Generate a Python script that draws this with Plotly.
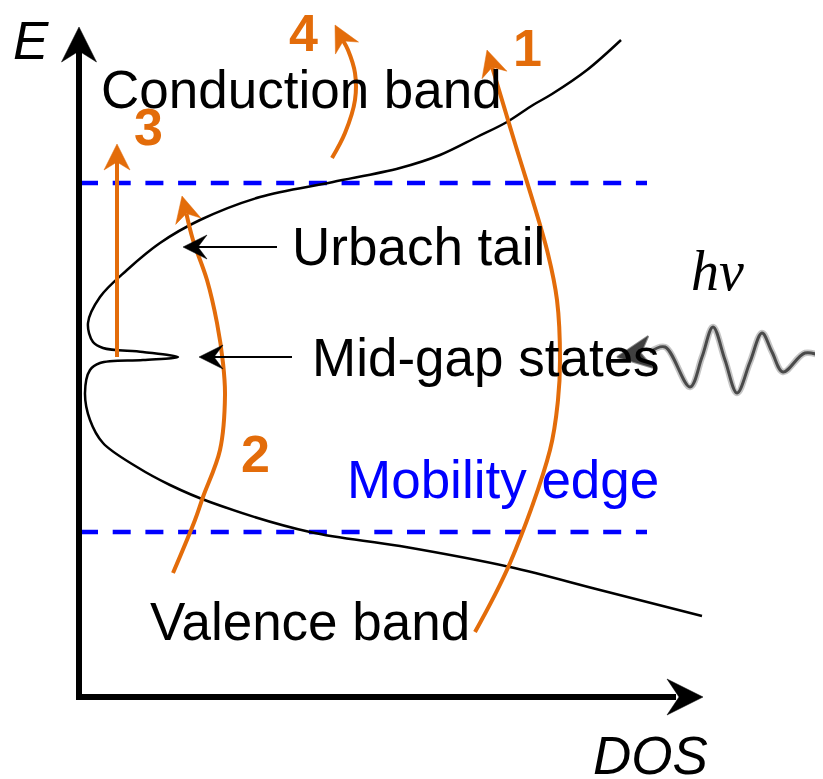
import numpy as np
import plotly.graph_objects as go

W, H = 823, 779
PAGE_MARGIN = 8  # browser default body margin

# ---------------- data (pixel units) ----------------
dos_x = [621, 587, 552, 533, 507, 477, 440, 400, 333, 260, 200, 160, 127, 100, 88, 93, 103,
         143, 178, 143, 100, 90, 85, 90, 103, 137, 170, 210, 310, 400, 510, 600, 702]
dos_y = [40, 70, 94, 105, 122, 137, 155, 168, 182, 197, 220, 243, 270, 297, 323, 342, 348,
         352, 357, 360, 363, 370, 393, 420, 443, 467, 485, 502, 532, 546, 567, 590, 616]

mobility_edges = [183, 532]
mobility_x = [80, 647]

arrow1_x = [475, 510, 550, 558, 560, 557, 547, 514, 487]
arrow1_y = [632, 563, 450, 400, 360, 300, 250, 140, 50]
arrow2_x = [173, 195, 203, 220, 225, 223, 217, 207, 193, 182]
arrow2_y = [573, 520, 497, 450, 395, 363, 323, 280, 240, 196]
arrow3_x = [117, 117]
arrow3_y = [357, 144]
arrow4_x = [332, 345, 355, 355, 348, 335]
arrow4_y = [158, 133, 100, 73, 50, 25]

pointer_urbach = ([277, 183], [247, 247])
pointer_midgap = ([292, 199], [357, 357])

wave_x = [823, 805, 783, 772, 762, 750, 737, 725, 713, 702, 690, 665, 650]
wave_y = [357, 353, 372, 352, 333, 362, 393, 360, 327, 357, 387, 347, 352]
photon_tip = (617, 357)

band_labels = ["Conduction band", "Urbach tail", "Mid-gap states", "Mobility edge", "Valence band"]
process_labels = ["1", "2", "3", "4"]
axis_labels = ["E", "DOS"]

# ---------------- styles / positions ----------------
ORANGE = "#E36C0A"
BLUE = "#0000FF"

fig = go.Figure()


def head_poly(tip, prev, L, hw, notch):
    tip = np.array(tip, float)
    d = tip - np.array(prev, float)
    d /= np.linalg.norm(d)
    n = np.array([-d[1], d[0]])
    base = tip - L * d
    p1 = base + hw * n
    p2 = tip - notch * d
    p3 = base - hw * n
    pts = [tip, p1, p2, p3, tip]
    return [p[0] for p in pts], [p[1] for p in pts], p2


def add_arrow(xs, ys, color, width, L, hw, notch, smooth=True, prev_idx=-2):
    tip = (xs[-1], ys[-1])
    prev = (xs[prev_idx], ys[prev_idx])
    hx, hy, nb = head_poly(tip, prev, L, hw, notch)
    lx = list(xs[:-1]) + [nb[0]]
    ly = list(ys[:-1]) + [nb[1]]
    fig.add_trace(go.Scatter(x=lx, y=ly, mode="lines",
                             line=dict(color=color, width=width,
                                       shape="spline" if smooth else "linear", smoothing=1.0),
                             hoverinfo="skip", showlegend=False))
    fig.add_trace(go.Scatter(x=hx, y=hy, mode="lines", fill="toself", fillcolor=color,
                             line=dict(color=color, width=0.5),
                             hoverinfo="skip", showlegend=False))


# mobility edges
for yv in mobility_edges:
    fig.add_trace(go.Scatter(x=mobility_x, y=[yv, yv], mode="lines",
                             line=dict(color=BLUE, width=4.5, dash="18px,14.7px"),
                             hoverinfo="skip", showlegend=False))

# DOS curve
fig.add_trace(go.Scatter(x=dos_x, y=dos_y, mode="lines",
                         line=dict(color="black", width=2.5, shape="spline", smoothing=1.0),
                         hoverinfo="skip", showlegend=False))

# axes (with arrow heads)
hx, hy, nb = head_poly((79, 27), (79, 100), 35, 17.5, 24)
fig.add_trace(go.Scatter(x=[nb[0], 79, 676], y=[nb[1], 697, 697], mode="lines",
                         line=dict(color="black", width=6), hoverinfo="skip", showlegend=False))
fig.add_trace(go.Scatter(x=hx, y=hy, mode="lines", fill="toself", fillcolor="black",
                         line=dict(color="black", width=0.5), hoverinfo="skip", showlegend=False))
hx, hy, nb = head_poly((703, 697), (600, 697), 36, 18, 24)
fig.add_trace(go.Scatter(x=hx, y=hy, mode="lines", fill="toself", fillcolor="black",
                         line=dict(color="black", width=0.5), hoverinfo="skip", showlegend=False))

# orange process arrows
add_arrow(arrow1_x, arrow1_y, ORANGE, 4, 26, 13, 18)
add_arrow(arrow2_x, arrow2_y, ORANGE, 4, 26, 13, 18)
add_arrow(arrow3_x, arrow3_y, ORANGE, 4, 26, 13, 18, smooth=False)
add_arrow(arrow4_x, arrow4_y, ORANGE, 4, 26, 13, 18)

# black pointers
add_arrow(pointer_urbach[0], pointer_urbach[1], "black", 2.2, 24, 12, 15, smooth=False)
add_arrow(pointer_midgap[0], pointer_midgap[1], "black", 2.2, 24, 12, 15, smooth=False)

# photon wave
fig.add_trace(go.Scatter(x=wave_x, y=wave_y, mode="lines",
                         line=dict(color="rgba(90,90,90,0.35)", width=6.5, shape="spline", smoothing=1.0),
                         hoverinfo="skip", showlegend=False))
fig.add_trace(go.Scatter(x=wave_x, y=wave_y, mode="lines",
                         line=dict(color="#4a4a4a", width=3, shape="spline", smoothing=1.0),
                         hoverinfo="skip", showlegend=False))
hx, hy, nb = head_poly(photon_tip, (wave_x[-1], wave_y[-1]), 34, 16, 24)
fig.add_trace(go.Scatter(x=hx, y=hy, mode="lines", fill="toself", fillcolor="#404040",
                         line=dict(color="rgba(64,64,64,0.6)", width=2),
                         hoverinfo="skip", showlegend=False))

# text
SANS = "Liberation Sans, Arial, sans-serif"
band_pos = [(99, 89, "black"), (290, 246, "black"), (310, 357, "black"), (345, 479, "blue"), (148, 621, "black")]
for t, (x, y, c) in zip(band_labels, band_pos):
    fig.add_annotation(x=x, y=y, text=t, showarrow=False, xanchor="left", yanchor="middle",
                       font=dict(family=SANS, size=53, color=c if c != "blue" else BLUE))

num_pos = [(527, 48), (255, 454), (148, 127), (303, 33)]
for t, (x, y) in zip(process_labels, num_pos):
    fig.add_annotation(x=x, y=y, text="<b>" + t + "</b>", showarrow=False, xanchor="center",
                       yanchor="middle", font=dict(family=SANS, size=52, color=ORANGE))

ax_pos = [(31, 40), (650, 755)]
for t, (x, y) in zip(axis_labels, ax_pos):
    fig.add_annotation(x=x, y=y, text="<i>" + t + "</i>", showarrow=False, xanchor="center",
                       yanchor="middle", font=dict(family=SANS, size=53, color="black"))

fig.add_annotation(x=717, y=271, text="<i>hν</i>", showarrow=False, xanchor="center", yanchor="middle",
                   font=dict(family="Liberation Serif, Times New Roman, serif", size=56, color="black"))

# the page body has an 8px margin: shrink the figure and offset the ranges so that
# data units coincide with page pixels
fig.update_layout(
    width=W - PAGE_MARGIN, height=H - PAGE_MARGIN,
    margin=dict(l=0, r=0, t=0, b=0),
    paper_bgcolor="white", plot_bgcolor="white",
    xaxis=dict(range=[PAGE_MARGIN, W], visible=False, fixedrange=True),
    yaxis=dict(range=[H, PAGE_MARGIN], visible=False, fixedrange=True),
    showlegend=False,
)

fig.write_html("out.html")
